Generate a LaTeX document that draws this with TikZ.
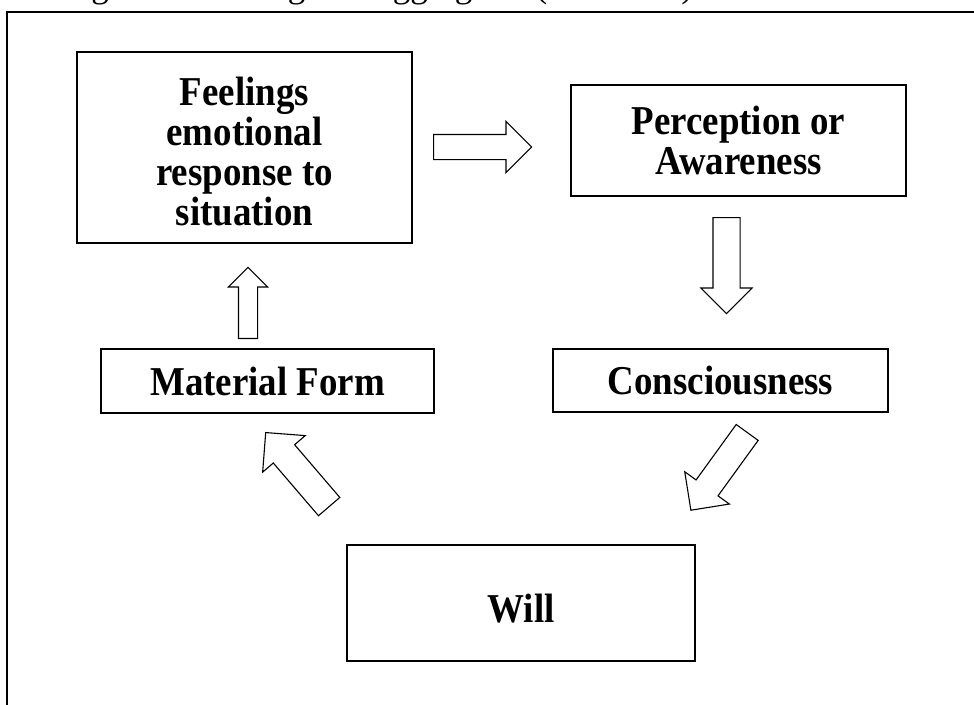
\documentclass[tikz,border=0pt]{standalone}
\usepackage{fontspec}
\setmainfont{Liberation Serif}
\newfontfamily\stagefont{Liberation Serif}[FakeStretch=0.9]
\usetikzlibrary{shapes}

\begin{document}
\begin{tikzpicture}[
  x=1pt, y=-1pt,
  stagebox/.style={draw, line width=1.3pt, inner sep=0pt, align=center, font=\stagefont\fontsize{41}{40}\selectfont\bfseries},
  blockarrow/.style={draw, single arrow, line width=1.1pt, anchor=tail, minimum width=1pt}
]
  \useasboundingbox (0,0) rectangle (974,704);
  \clip (0,0) rectangle (974,704);

  % Caption line, cut at the top
  \node[anchor=base east, inner sep=0pt, font=\fontsize{35}{40}\selectfont] (caption) at (702,-2) {g the following five aggregates (Skandhas).};
  % Outer frame
  \draw[line width=1.5pt] (7,720) -- (7,12) -- (990,12);

  % Aggregates
  \node[stagebox, minimum width=335pt, minimum height=191pt, text height=155pt, text depth=0pt] (feel) at (244.5,147.5) {Feelings\\emotional\\response to\\situation};
  \node[stagebox, minimum width=335pt, minimum height=111pt] (perc) at (738.5,140.5) {Perception or\\Awareness};
  \node[stagebox, minimum width=335pt, minimum height=63pt] (cons) at (720.5,380.5) {Consciousness};
  \node[stagebox, minimum width=348pt, minimum height=116pt, text height=38pt, text depth=0pt] (will) at (521,603) {Will};
  \node[stagebox, minimum width=333pt, minimum height=64pt] (mat) at (267.5,381) {Material Form};

  % Block arrows
  \node[blockarrow, inner sep=12pt, single arrow head extend=13pt, minimum height=98pt] (arrR) at (433,147) {};
  \node[blockarrow, inner sep=13pt, single arrow head extend=12pt, minimum height=96pt, rotate=-90] (arrD) at (726.5,217) {};
  \node[blockarrow, inner sep=13pt, single arrow head extend=14pt, minimum height=96pt, rotate=-125.9] (arrDL) at (747.5,432) {};
  \node[blockarrow, inner sep=13.5pt, single arrow head extend=14pt, minimum height=97.5pt, rotate=130.6] (arrUL) at (329.5,507) {};
  \node[blockarrow, inner sep=9pt, single arrow head extend=10pt, minimum height=71pt, rotate=90] (arrU) at (248,339) {};
\end{tikzpicture}
\end{document}
